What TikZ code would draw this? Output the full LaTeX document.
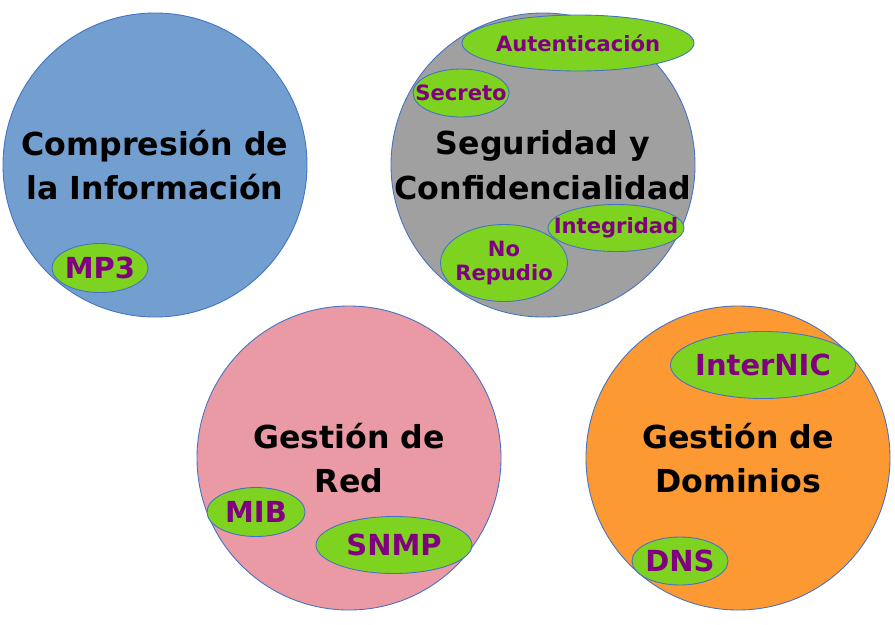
\documentclass[tikz,border=0pt]{standalone}
\usepackage{fontspec}
\setmainfont{DejaVu Sans}
\usepackage{xcolor}
\usepackage{tikz}
\usetikzlibrary{shapes.geometric}
\definecolor{areaBlue}{RGB}{114,159,207}
\definecolor{areaGray}{RGB}{160,160,160}
\definecolor{areaPink}{RGB}{234,154,164}
\definecolor{areaOrange}{RGB}{253,153,51}
\definecolor{tagGreen}{RGB}{126,211,33}
\definecolor{tagText}{RGB}{128,0,128}
\definecolor{rim}{RGB}{68,114,196}
\tikzset{
  area/.style={circle, draw=rim, line width=0.5pt, minimum size=60.8mm, inner sep=0pt,
    align=center, font=\fontsize{18}{25.5}\selectfont\bfseries},
  tag/.style={ellipse, draw=rim, line width=0.5pt, fill=tagGreen, inner sep=-40pt,
    text=tagText, align=center, font=\fontsize{12}{14}\selectfont\bfseries},
  bigtag/.style={tag, font=\fontsize{16.5}{18}\selectfont\bfseries},
}

\begin{document}
\begin{tikzpicture}[x=0.2mm, y=-0.2mm]
\useasboundingbox (0,0) rectangle (895,624);
% the four areas
\node[area, fill=areaBlue]   (compresion) at (155,165) {Compresión de\\la Información};
\node[area, fill=areaGray]   (seguridad)  at (543,165) {Seguridad y\\Confidencialidad};
\node[area, fill=areaPink]   (red)        at (349,458) {Gestión de\\Red};
\node[area, fill=areaOrange] (dominios)   at (738,458) {Gestión de\\Dominios};
% tags
\node[bigtag, minimum width=19.2mm, minimum height=9.8mm] (mp3) at (100,268) {MP3};
\node[tag, minimum width=46.4mm, minimum height=11.2mm] (autenticacion) at (578,43) {Autenticación};
\node[tag, minimum width=19.2mm, minimum height=9.6mm] (secreto) at (461,93) {Secreto};
\node[tag, minimum width=27.2mm, minimum height=9.4mm] (integridad) at (616,228) {Integridad};
\node[tag, minimum width=25.4mm, minimum height=15.4mm] (repudio) at (504,263) {No\\Repudio};
\node[bigtag, minimum width=19.6mm, minimum height=9.8mm] (mib) at (256,512) {MIB};
\node[bigtag, minimum width=31.2mm, minimum height=11.4mm] (snmp) at (394,545) {SNMP};
\node[bigtag, minimum width=37mm, minimum height=13.4mm] (internic) at (763,365) {InterNIC};
\node[bigtag, minimum width=19.2mm, minimum height=9.6mm] (dns) at (680,561) {DNS};
\end{tikzpicture}
\end{document}
